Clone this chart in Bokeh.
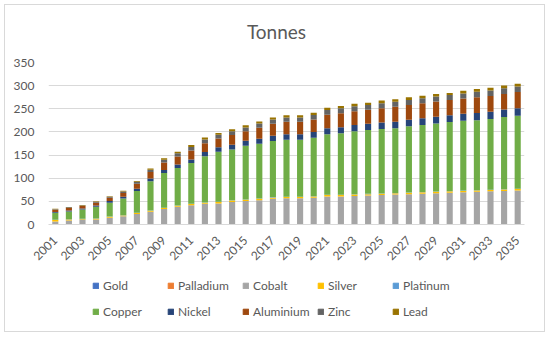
import math
from bokeh.plotting import figure
from bokeh.layouts import column
from bokeh.models import ColumnDataSource, Legend, LegendItem, FixedTicker, Range1d, Label
from bokeh.embed import file_html
from bokeh.resources import INLINE

years = list(range(2001, 2036))
gold      = [0.3] * 35
palladium = [0.3] * 35
cobalt    = [6, 8, 9, 10, 14, 17, 22, 27, 33, 38, 41, 44, 45, 48, 50, 52, 55, 56, 56, 57,
             60, 60, 61, 62, 63, 64, 65, 66, 67, 68, 69, 70, 71, 72, 73]
silver    = [3, 2, 2, 2, 2, 2, 2, 2, 2, 2, 2.5, 2.5, 3, 3, 3, 3, 3, 3, 3, 3,
             3, 3, 3, 3, 3, 3, 3, 3, 3, 3, 3, 3, 3, 3, 3]
platinum  = [0.6] * 35
copper    = [15.4, 17, 20, 25, 30, 36, 47, 63, 75, 81, 88, 100, 108, 110, 116, 118, 121, 123, 123, 126,
             131, 133, 136, 138, 139, 140, 143, 145, 147, 149, 151, 151, 153, 156, 158]
nickel    = [1.4, 2, 2.5, 3, 3.5, 4, 5, 6, 6.5, 7.5, 8, 9, 9.5, 10, 10.5, 11, 11.5, 12, 12, 12.5,
             13, 13, 13.5, 13.5, 14, 14, 14, 14.5, 14.5, 15, 15, 15.5, 15.5, 16, 16]
aluminium = [5, 5.5, 5, 6, 7, 8, 11, 14, 16, 17, 19, 19, 19, 21, 21, 24, 26, 27, 27, 27,
             29, 30, 30, 30, 31, 32, 32, 32, 33, 33, 33, 34, 34, 34, 35]
zinc      = [1.2, 1.5, 1.5, 2, 2.5, 3, 4, 5, 6, 7, 8, 8, 8, 8, 8, 9, 9, 9, 9, 10,
             10, 11, 11, 10.5, 11, 11, 11, 11, 11, 10.5, 11, 12, 12, 12, 12]
lead      = [0.8, 0.8, 0.8, 1, 1, 1.5, 2, 3, 3.5, 3.5, 4, 4, 4, 4.5, 4.5, 4.5, 4.5, 5, 5, 5,
             5, 5, 5, 5, 5.5, 5.5, 5.5, 5.5, 5.5, 4.5, 5.5, 6, 6, 6, 6]

names = ["Gold", "Palladium", "Cobalt", "Silver", "Platinum",
         "Copper", "Nickel", "Aluminium", "Zinc", "Lead"]
colors = ["#4472C4", "#ED7D31", "#A5A5A5", "#FFC000", "#5B9BD5",
          "#70AD47", "#264478", "#9E480E", "#636363", "#997300"]
y_ticks = [0, 50, 100, 150, 200, 250, 300, 350]
x_ticks = list(range(2001, 2036, 2))
title_text = "Tonnes"

source = ColumnDataSource(dict(year=years, Gold=gold, Palladium=palladium, Cobalt=cobalt,
                               Silver=silver, Platinum=platinum, Copper=copper, Nickel=nickel,
                               Aluminium=aluminium, Zinc=zinc, Lead=lead))

FONT = "Lato"
TXT = "#595959"
W = 539

# ---- title strip ----
p0 = figure(width=W, height=49, output_backend="svg", toolbar_location=None,
            x_range=Range1d(0, 1), y_range=Range1d(0, 1),
            x_axis_location=None, y_axis_location=None,
            min_border_left=0, min_border_right=0, min_border_top=0, min_border_bottom=0)
p0.grid.visible = False
p0.outline_line_color = None
p0.add_layout(Label(x=0.479, y=0.465, text=title_text, text_align="center",
                    text_baseline="alphabetic", text_font=FONT, text_font_size="19px",
                    text_color=TXT))

# ---- main chart ----
p = figure(width=W, height=213, output_backend="svg", toolbar_location=None,
           x_range=Range1d(2000.5, 2035.5), y_range=Range1d(0, 350),
           min_border_left=43, min_border_right=20,
           min_border_top=8, min_border_bottom=43)

p.vbar_stack(names, x="year", width=0.45, color=colors, source=source, line_width=0)

p.outline_line_color = None
p.xgrid.grid_line_color = None
p.ygrid.grid_line_color = "#D9D9D9"
p.ygrid.grid_line_width = 1

p.yaxis.ticker = FixedTicker(ticks=y_ticks)
p.yaxis.axis_line_color = None
p.yaxis.major_tick_line_color = None
p.yaxis.minor_tick_line_color = None
p.yaxis.major_label_text_font = FONT
p.yaxis.major_label_text_font_size = "12px"
p.yaxis.major_label_text_color = TXT
p.yaxis.major_label_standoff = 8

p.xaxis.ticker = FixedTicker(ticks=x_ticks)
p.xaxis.axis_line_color = "#D9D9D9"
p.xaxis.major_tick_line_color = None
p.xaxis.minor_tick_line_color = None
p.xaxis.major_label_orientation = math.pi / 4
p.xaxis.major_label_text_font = FONT
p.xaxis.major_label_text_font_size = "12px"
p.xaxis.major_label_text_color = TXT
p.xaxis.major_label_standoff = 8

# ---- legend strip (swatch glyphs sit outside the visible range) ----
p2 = figure(width=W, height=64, output_backend="svg", toolbar_location=None,
            x_range=Range1d(0, 1), y_range=Range1d(0, 1),
            x_axis_location=None, y_axis_location=None,
            min_border_left=0, min_border_right=0, min_border_top=0, min_border_bottom=0)
p2.grid.visible = False
p2.outline_line_color = None
dummy = ColumnDataSource(dict(l=[-3], r=[-2], t=[-2], b=[-3]))
items = []
for n, c in zip(names, colors):
    r = p2.quad(left="l", right="r", top="t", bottom="b", source=dummy, color=c)
    items.append(LegendItem(label=n, renderers=[r]))
legend = Legend(items=items, orientation="horizontal", ncols=5, location=(44, 9),
                label_text_font=FONT, label_text_font_size="12px", label_text_color=TXT,
                glyph_width=7, glyph_height=7, label_standoff=4, label_width=60,
                label_height=22, spacing=4, padding=0, margin=0,
                border_line_color=None, background_fill_alpha=0)
p2.add_layout(legend, "center")

layout = column(p0, p, p2, spacing=0,
                styles={"border": "1px solid #D9D9D9", "margin-left": "4px", "margin-top": "4px"})

open("out.html", "w").write(file_html(layout, INLINE))
